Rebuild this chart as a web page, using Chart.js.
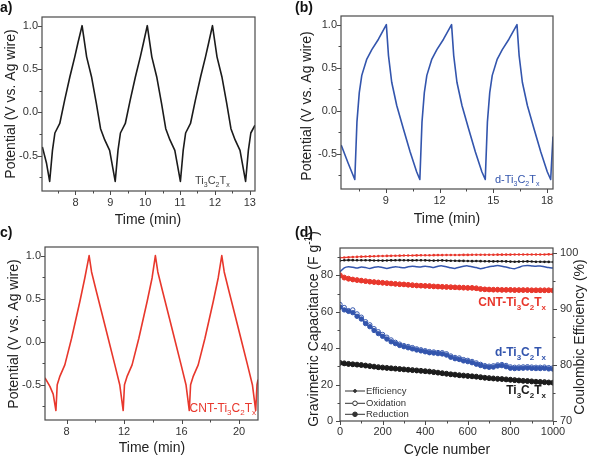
<!DOCTYPE html>
<html>
<head>
<meta charset="utf-8">
<script src="https://cdn.jsdelivr.net/npm/chart.js@4.4.1/dist/chart.umd.min.js"></script>
<style>
  html, body { margin: 0; padding: 0; background: #fff; }
  #wrap { position: relative; width: 590px; height: 456px; overflow: hidden; }
  canvas { position: absolute; }
</style>
</head>
<body>
<div id="wrap">
  <canvas id="panelA" width="295" height="228" style="left:0;top:0"></canvas>
  <canvas id="panelB" width="295" height="228" style="left:295px;top:0"></canvas>
  <canvas id="panelC" width="295" height="232" style="left:0;top:224px"></canvas>
  <canvas id="panelD" width="295" height="232" style="left:295px;top:224px"></canvas>
</div>
<script>
// ---- (a) Ti3C2Tx charge/discharge ----
const aTime = [7.05, 7.17, 7.26, 7.34, 7.41, 7.55, 7.69, 7.84, 7.98, 8.07, 8.19, 8.32, 8.46, 8.60, 8.72, 8.84, 8.98, 9.14,
  9.22, 9.29, 9.43, 9.57, 9.72, 9.86, 9.95, 10.06, 10.19, 10.33, 10.47, 10.59, 10.71, 10.85, 11.01,
  11.09, 11.16, 11.30, 11.44, 11.59, 11.73, 11.82, 11.93, 12.06, 12.20, 12.34, 12.46, 12.58, 12.72, 12.88,
  12.96, 13.03, 13.15];
const aPotential = [-0.40, -0.59, -0.80, -0.44, -0.24, -0.13, 0.14, 0.41, 0.64, 0.80, 1.00, 0.64, 0.41, 0.10, -0.19, -0.32, -0.44, -0.80,
  -0.44, -0.24, -0.13, 0.14, 0.41, 0.64, 0.80, 1.00, 0.64, 0.41, 0.10, -0.19, -0.32, -0.44, -0.80,
  -0.44, -0.24, -0.13, 0.14, 0.41, 0.64, 0.80, 1.00, 0.64, 0.41, 0.10, -0.19, -0.32, -0.44, -0.80,
  -0.44, -0.24, -0.15];
const aTimeTicks = [8, 9, 10, 11, 12, 13];

// ---- (b) d-Ti3C2Tx ----
const bTime = [6.51, 6.90, 7.27, 7.39, 7.52, 7.66, 7.94, 8.22, 8.59, 9.03, 9.15, 9.33, 9.61, 9.98, 10.36, 10.72, 10.90,
  11.02, 11.15, 11.29, 11.57, 11.85, 12.22, 12.67, 12.79, 12.97, 13.25, 13.62, 14.00, 14.36, 14.55,
  14.67, 14.80, 14.94, 15.22, 15.50, 15.87, 16.32, 16.44, 16.62, 16.90, 17.27, 17.65, 18.01, 18.20, 18.33];
const bPotential = [-0.40, -0.61, -0.80, -0.13, 0.21, 0.41, 0.60, 0.71, 0.83, 1.00, 0.64, 0.33, 0.06, -0.21, -0.48, -0.71, -0.80,
  -0.13, 0.21, 0.41, 0.60, 0.71, 0.83, 1.00, 0.64, 0.33, 0.06, -0.21, -0.48, -0.71, -0.80,
  -0.13, 0.21, 0.41, 0.60, 0.71, 0.83, 1.00, 0.64, 0.33, 0.06, -0.21, -0.48, -0.71, -0.80, -0.30];
const bTimeTicks = [9, 12, 15, 18];

// ---- (c) CNT-Ti3C2Tx ----
const cTime = [6.50, 6.84, 7.07, 7.26, 7.35, 7.54, 7.88, 8.35, 8.93, 9.27, 9.57, 9.74, 10.08, 10.55, 11.00, 11.36, 11.70, 11.94,
  12.03, 12.22, 12.56, 13.03, 13.61, 13.95, 14.18, 14.35, 14.69, 15.16, 15.61, 15.97, 16.31, 16.54,
  16.63, 16.82, 17.16, 17.63, 18.21, 18.55, 18.80, 18.97, 19.31, 19.78, 20.23, 20.59, 20.93, 21.16, 21.25, 21.32];
const cPotential = [-0.42, -0.52, -0.61, -0.80, -0.50, -0.40, -0.27, 0.04, 0.47, 0.74, 1.00, 0.81, 0.58, 0.27, -0.03, -0.27, -0.50, -0.80,
  -0.50, -0.40, -0.27, 0.04, 0.47, 0.74, 1.00, 0.81, 0.58, 0.27, -0.03, -0.27, -0.50, -0.80,
  -0.50, -0.40, -0.27, 0.04, 0.47, 0.74, 1.00, 0.81, 0.58, 0.27, -0.03, -0.27, -0.50, -0.80, -0.50, -0.44];
const cTimeTicks = [8, 12, 16, 20];

const potentialTicks = [-0.5, 0, 0.5, 1.0];

// ---- (d) cycling ----
const cycles = [0, 20, 40, 60, 80, 100, 120, 140, 160, 180, 200, 220, 240, 260, 280, 300, 320, 340, 360, 380,
  400, 420, 440, 460, 480, 500, 520, 540, 560, 580, 600, 620, 640, 660, 680, 700, 720, 740, 760, 780,
  800, 820, 840, 860, 880, 900, 920, 940, 960, 980, 1000];

const cntReduction = [79.8, 78.6, 78.0, 77.6, 77.3, 77.0, 76.7, 76.4, 76.2, 76.0,
  75.8, 75.6, 75.4, 75.2, 75.0, 74.9, 74.7, 74.5, 74.3, 74.2,
  74.1, 74.0, 73.8, 73.7, 73.6, 73.5, 73.4, 73.3, 73.2, 73.1,
  73.0, 73.0, 72.8, 72.4, 72.2, 72.1, 72.0, 72.0, 71.9, 71.9,
  71.9, 71.8, 71.8, 71.8, 71.8, 71.7, 71.7, 71.7, 71.7, 71.7, 71.6];
const cntOxidation = [80.2, 78.9, 78.3, 77.8, 77.5, 77.2, 76.9, 76.6, 76.4, 76.2,
  76.0, 75.8, 75.6, 75.4, 75.2, 75.1, 74.9, 74.7, 74.5, 74.4,
  74.3, 74.2, 74.0, 73.9, 73.8, 73.7, 73.6, 73.5, 73.4, 73.3,
  73.2, 73.2, 73.0, 72.6, 72.4, 72.3, 72.2, 72.2, 72.1, 72.1,
  72.1, 72.0, 72.0, 72.0, 72.0, 71.9, 71.9, 71.9, 71.9, 71.9, 71.8];

const dReduction = [62.5, 61.0, 60.2, 59.5, 57.5, 56.0, 53.5, 51.8, 49.7, 48.0,
  46.5, 45.0, 43.5, 42.5, 41.5, 40.8, 40.2, 39.6, 39.0, 38.5,
  38.0, 37.5, 37.3, 37.0, 36.8, 36.2, 35.0, 34.2, 33.8, 33.0,
  32.6, 32.0, 31.2, 30.5, 29.8, 29.5, 29.6, 30.2, 30.4, 29.8,
  29.0, 28.8, 28.9, 29.0, 29.1, 28.9, 28.8, 28.8, 28.9, 28.6, 28.5];
const dOxidation = [64.0, 62.3, 60.6, 61.0, 58.8, 57.0, 54.5, 52.8, 50.7, 49.0,
  47.5, 46.0, 44.5, 43.2, 42.2, 41.4, 40.9, 40.3, 39.6, 39.1,
  38.6, 38.1, 37.9, 37.6, 37.5, 36.9, 35.7, 34.9, 34.6, 33.7,
  33.3, 32.7, 31.9, 31.1, 30.4, 30.1, 30.3, 30.8, 31.0, 30.5,
  29.7, 29.5, 29.6, 29.7, 29.8, 29.6, 29.5, 29.5, 29.6, 29.3, 29.2];

const tiReduction = [31.8, 31.5, 31.2, 31.0, 30.8, 30.6, 30.3, 30.0, 29.7, 29.4,
  29.2, 29.0, 28.8, 28.6, 28.4, 28.2, 28.0, 27.8, 27.6, 27.4,
  27.2, 27.0, 26.7, 26.4, 26.1, 25.8, 25.5, 25.3, 25.0, 24.8,
  24.6, 24.4, 24.2, 23.9, 23.6, 23.4, 23.2, 23.0, 22.9, 22.7,
  22.5, 22.3, 22.1, 21.9, 21.8, 21.6, 21.4, 21.3, 21.2, 21.0, 20.9];
const tiOxidation = [32.1, 31.8, 31.5, 31.3, 31.1, 30.9, 30.6, 30.3, 30.0, 29.7,
  29.5, 29.3, 29.1, 28.9, 28.7, 28.5, 28.3, 28.1, 27.9, 27.7,
  27.5, 27.3, 27.0, 26.7, 26.4, 26.1, 25.8, 25.6, 25.3, 25.1,
  24.9, 24.7, 24.5, 24.2, 23.9, 23.7, 23.5, 23.3, 23.2, 23.0,
  22.8, 22.6, 22.4, 22.2, 22.1, 21.9, 21.7, 21.6, 21.5, 21.3, 21.2];

const cntEfficiency = [99.20, 99.25, 99.30, 99.33, 99.36, 99.40, 99.42, 99.45, 99.47, 99.50,
  99.52, 99.54, 99.55, 99.57, 99.58, 99.60, 99.61, 99.62, 99.63, 99.64,
  99.65, 99.66, 99.67, 99.68, 99.68, 99.69, 99.70, 99.70, 99.71, 99.72,
  99.72, 99.73, 99.73, 99.74, 99.74, 99.75, 99.75, 99.76, 99.76, 99.77,
  99.77, 99.78, 99.78, 99.78, 99.79, 99.79, 99.80, 99.80, 99.80, 99.81, 99.81];
const tiEfficiency = [98.70, 98.75, 98.78, 98.78, 98.76, 98.75, 98.76, 98.74, 98.72, 98.72,
  98.70, 98.72, 98.74, 98.75, 98.78, 98.76, 98.74, 98.73, 98.75, 98.76,
  98.74, 98.72, 98.70, 98.72, 98.73, 98.70, 98.68, 98.66, 98.65, 98.64,
  98.62, 98.60, 98.62, 98.60, 98.58, 98.56, 98.55, 98.56, 98.57, 98.55,
  98.52, 98.50, 98.52, 98.54, 98.55, 98.53, 98.50, 98.48, 98.47, 98.46, 98.45];
const dEfficiency = [96.7, 97.4, 97.6, 97.5, 97.35, 97.55, 97.45, 97.3, 97.5, 97.6,
  97.45, 97.3, 97.45, 97.6, 97.5, 97.4, 97.6, 97.7, 97.6, 97.55,
  97.7, 97.6, 97.45, 97.7, 97.75, 97.6, 97.4, 97.3, 97.5, 97.7,
  97.75, 97.6, 97.45, 97.25, 97.4, 97.6, 97.7, 97.8, 97.7, 97.55,
  97.35, 97.25, 97.5, 97.75, 97.8, 97.75, 97.7, 97.75, 97.6, 97.45, 97.35];

const cycleTicks = [0, 200, 400, 600, 800, 1000];
const capacitanceTicks = [0, 20, 40, 60, 80];
const efficiencyTicks = [70, 80, 90, 100];

const black = "#1b1b1b";
const blue = "#3355ad";
const red = "#e8372c";
const family = '"Liberation Sans", Arial, Helvetica, sans-serif';

// major ticks plus half-step minor ticks inside the range
const withMinors = (majors, min, max) => {
  const step = majors[1] - majors[0];
  const out = [];
  for (let v = majors[0] - step; v <= majors[majors.length - 1] + step + 1e-9; v += step / 2) {
    const r = Math.round(v * 1000) / 1000;
    if (r >= min - 1e-9 && r <= max + 1e-9) out.push(r);
  }
  return out;
};

const parseRich = (str) => {
  const out = [];
  let i = 0;
  while (i < str.length) {
    const c = str[i];
    if (c === "_" || c === "^") {
      let t;
      if (str[i + 1] === "{") {
        const j = str.indexOf("}", i);
        t = str.slice(i + 2, j);
        i = j + 1;
      } else {
        t = str[i + 1];
        i += 2;
      }
      out.push({ t, k: c === "_" ? "sub" : "sup" });
    } else {
      if (out.length && out[out.length - 1].k === "n") out[out.length - 1].t += c;
      else out.push({ t: c, k: "n" });
      i++;
    }
  }
  return out;
};

const drawRich = (ctx, item) => {
  const { text, x, y, size, weight = "normal", color = "#222", align = "left", rotate = 0 } = item;
  const parts = parseRich(text);
  const fontFor = (k) => `${weight} ${k === "n" ? size : Math.round(size * 0.68)}px ${family}`;
  let w = 0;
  parts.forEach((p) => {
    ctx.font = fontFor(p.k);
    p.w = ctx.measureText(p.t).width;
    w += p.w;
  });
  ctx.save();
  ctx.translate(x, y);
  if (rotate) ctx.rotate(rotate);
  ctx.fillStyle = color;
  ctx.textBaseline = "alphabetic";
  ctx.textAlign = "left";
  let cx = align === "center" ? -w / 2 : align === "right" ? -w : 0;
  parts.forEach((p) => {
    ctx.font = fontFor(p.k);
    const dy = p.k === "sub" ? size * 0.3 : p.k === "sup" ? -size * 0.42 : 0;
    ctx.fillText(p.t, cx, dy);
    cx += p.w;
  });
  ctx.restore();
};

// frame, tick marks, titles, annotations, legend
const decor = {
  id: "decor",
  afterDraw(chart, args, opts) {
    const ctx = chart.ctx;
    const a = chart.chartArea;
    ctx.save();
    ctx.strokeStyle = "#4a4a4a";
    ctx.lineWidth = 1;
    Object.values(chart.scales).forEach((s) => {
      s.ticks.forEach((t) => {
        const len = t.label !== "" ? 4 : 2.5;
        const p = Math.round(s.getPixelForValue(t.value)) + 0.5;
        ctx.beginPath();
        if (s.position === "bottom") { ctx.moveTo(p, a.bottom); ctx.lineTo(p, a.bottom + len); }
        if (s.position === "left") { ctx.moveTo(a.left - len, p); ctx.lineTo(a.left, p); }
        if (s.position === "right") { ctx.moveTo(a.right, p); ctx.lineTo(a.right + len, p); }
        ctx.stroke();
      });
    });
    ctx.lineWidth = 1.2;
    ctx.strokeRect(a.left, a.top, a.right - a.left, a.bottom - a.top);

    (opts.texts || []).forEach((t) => drawRich(ctx, t));

    if (opts.legend) {
      const lg = opts.legend;
      lg.rows.forEach((r) => {
        ctx.strokeStyle = "#333";
        ctx.lineWidth = 1;
        ctx.beginPath();
        ctx.moveTo(lg.x0, r.y);
        ctx.lineTo(lg.x1, r.y);
        ctx.stroke();
        const mx = (lg.x0 + lg.x1) / 2;
        ctx.beginPath();
        ctx.arc(mx, r.y, r.kind === "eff" ? 1.4 : 2.3, 0, Math.PI * 2);
        ctx.fillStyle = r.kind === "ox" ? "#fff" : "#333";
        ctx.fill();
        ctx.stroke();
        ctx.fillStyle = "#333";
        ctx.font = `9.5px ${family}`;
        ctx.textBaseline = "middle";
        ctx.textAlign = "left";
        ctx.fillText(r.label, lg.tx, r.y);
      });
    }
    ctx.restore();
  },
};

const tickFont = { family, size: 11 };

const makeAxis = (opts) => {
  const { min, max, majors, fmt, fit, tickLength, padding } = opts;
  return {
    type: "linear",
    position: opts.position,
    min,
    max,
    afterBuildTicks: (s) => {
      s.ticks = withMinors(majors, min, max).map((v) => ({ value: v }));
    },
    afterFit: fit,
    grid: { display: true, drawOnChartArea: false, drawTicks: true, tickLength, color: "rgba(0,0,0,0)", tickColor: "rgba(0,0,0,0)" },
    border: { display: false },
    ticks: {
      autoSkip: false,
      maxRotation: 0,
      padding,
      color: "#333",
      font: tickFont,
      callback: (v) => (majors.some((m) => Math.abs(m - v) < 1e-6) ? fmt(v) : ""),
    },
  };
};

const potentialChart = (id, times, volts, color, xMin, xMax, xMajors, box, texts) => {
  const canvas = document.getElementById(id);
  new Chart(canvas, {
    type: "line",
    data: {
      datasets: [
        {
          data: times.map((t, i) => ({ x: t, y: volts[i] })),
          borderColor: color,
          borderWidth: 1.6,
          borderJoinStyle: "round",
          pointRadius: 0,
          tension: 0,
          fill: false,
        },
      ],
    },
    options: {
      responsive: false,
      animation: false,
      layout: { padding: { left: 0, top: box.top, right: canvas.width - box.right, bottom: 0 } },
      scales: {
        x: makeAxis({
          position: "bottom", min: xMin, max: xMax, majors: xMajors, fmt: (v) => String(v),
          fit: (s) => { s.height = canvas.height - box.bottom; }, tickLength: 4, padding: 1,
        }),
        y: makeAxis({
          position: "left", min: -0.91, max: 1.1, majors: potentialTicks, fmt: (v) => v.toFixed(1),
          fit: (s) => { s.width = box.left; }, tickLength: 3, padding: 1,
        }),
      },
      plugins: { legend: { display: false }, tooltip: { enabled: false }, decor: { texts } },
    },
    plugins: [decor],
  });
};

const yTitle = "Potential (V vs. Ag wire)";
const up = -Math.PI / 2;

potentialChart("panelA", aTime, aPotential, black, 7.04, 13.15, aTimeTicks,
  { left: 42, top: 17, right: 255, bottom: 191 },
  [
    { text: "a)", x: 0, y: 12, size: 14, weight: "bold", color: "#111" },
    { text: "Time (min)", x: 148, y: 224, size: 14, align: "center" },
    { text: yTitle, x: 15, y: 104, size: 14, align: "center", rotate: up },
    { text: "Ti_3C_2T_x", x: 195, y: 184, size: 11, color: "#444" },
  ]);

potentialChart("panelB", bTime, bPotential, blue, 6.5, 18.33, bTimeTicks,
  { left: 46, top: 16, right: 258, bottom: 189 },
  [
    { text: "(b)", x: 0, y: 12, size: 14, weight: "bold", color: "#111" },
    { text: "Time (min)", x: 152, y: 223, size: 14, align: "center" },
    { text: yTitle, x: 16, y: 106, size: 14, align: "center", rotate: up },
    { text: "d-Ti_3C_2T_x", x: 200, y: 183, size: 11, color: blue },
  ]);

potentialChart("panelC", cTime, cPotential, red, 6.5, 21.32, cTimeTicks,
  { left: 45, top: 23, right: 258, bottom: 196 },
  [
    { text: "c)", x: 0, y: 12.5, size: 14, weight: "bold", color: "#111" },
    { text: "Time (min)", x: 152, y: 227.5, size: 14, align: "center" },
    { text: yTitle, x: 18, y: 110, size: 14, align: "center", rotate: up },
    { text: "CNT-Ti_3C_2T_x", x: 256, y: 187.5, size: 12, color: red, align: "right" },
  ]);

// ---- (d) ----
(() => {
  const canvas = document.getElementById("panelD");
  const box = { left: 45, top: 24, right: 258, bottom: 197 };
  const pts = (vals) => cycles.map((c, i) => ({ x: c, y: vals[i] }));
  const eff = (vals, color, radius, width) => ({
    data: pts(vals), yAxisID: "y2", borderColor: color, backgroundColor: color, borderWidth: width,
    pointRadius: radius, pointBorderWidth: 0, tension: 0.2,
  });
  const cap = (vals, color, open, order) => ({
    data: pts(vals), yAxisID: "y", borderColor: color, backgroundColor: open ? "#fff" : color,
    pointBackgroundColor: open ? "#fff" : color, pointBorderColor: color, borderWidth: 1.1,
    pointRadius: 2.2, pointBorderWidth: 1, tension: 0, order,
  });
  new Chart(canvas, {
    type: "line",
    data: {
      datasets: [
        eff(cntEfficiency, red, 1.3, 1.1),
        eff(tiEfficiency, black, 1.3, 1.1),
        eff(dEfficiency, blue, 0, 1.5),
        cap(cntOxidation, red, true, 2),
        cap(cntReduction, red, false, 1),
        cap(dOxidation, blue, true, 2),
        cap(dReduction, blue, false, 1),
        cap(tiOxidation, black, true, 2),
        cap(tiReduction, black, false, 1),
      ],
    },
    options: {
      responsive: false,
      animation: false,
      layout: { padding: { left: 0, top: box.top, right: 0, bottom: 0 } },
      scales: {
        x: makeAxis({
          position: "bottom", min: 0, max: 1000, majors: cycleTicks, fmt: (v) => String(v),
          fit: (s) => { s.height = canvas.height - box.bottom; }, tickLength: 4, padding: 0,
        }),
        y: makeAxis({
          position: "left", min: 0, max: 95, majors: capacitanceTicks, fmt: (v) => String(v),
          fit: (s) => { s.width = box.left; }, tickLength: 4, padding: 3,
        }),
        y2: makeAxis({
          position: "right", min: 70, max: 100.95, majors: efficiencyTicks, fmt: (v) => String(v),
          fit: (s) => { s.width = canvas.width - box.right; }, tickLength: 4, padding: 3,
        }),
      },
      plugins: {
        legend: { display: false },
        tooltip: { enabled: false },
        decor: {
          texts: [
            { text: "(d)", x: 0, y: 12.5, size: 14, weight: "bold", color: "#111" },
            { text: "Cycle number", x: 152, y: 230, size: 14, align: "center" },
            { text: "Gravimetric Capacitance (F g^{-1})", x: 23, y: 105, size: 14, align: "center", rotate: up },
            { text: "Coulombic Efficiency (%)", x: 289, y: 113, size: 14, align: "center", rotate: up },
            { text: "CNT-Ti_3C_2T_x", x: 251, y: 82, size: 12, weight: "bold", color: red, align: "right" },
            { text: "d-Ti_3C_2T_x", x: 251, y: 132, size: 12, weight: "bold", color: blue, align: "right" },
            { text: "Ti_3C_2T_x", x: 251, y: 170, size: 12, weight: "bold", color: black, align: "right" },
          ],
          legend: {
            x0: 50, x1: 70, tx: 71,
            rows: [
              { label: "Efficiency", y: 167, kind: "eff" },
              { label: "Oxidation", y: 179.3, kind: "ox" },
              { label: "Reduction", y: 190.3, kind: "red" },
            ],
          },
        },
      },
    },
    plugins: [decor],
  });
})();
</script>
</body>
</html>
